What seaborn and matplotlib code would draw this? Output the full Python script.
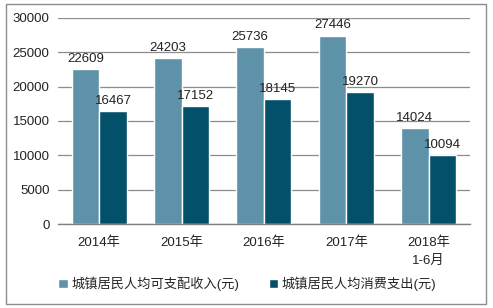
import matplotlib
matplotlib.use("Agg")
import matplotlib.pyplot as plt
import seaborn as sns
import pandas as pd
from matplotlib.patches import Rectangle

categories = ["2014年", "2015年", "2016年", "2017年", "2018年\n1-6月"]
income = [22609, 24203, 25736, 27446, 14024]
spending = [16467, 17152, 18145, 19270, 10094]
series_names = ["城镇居民人均可支配收入(元)", "城镇居民人均消费支出(元)"]
colors = ["#5E92A8", "#03506B"]

sns.set_theme(style="white")
plt.rcParams["font.family"] = ["Liberation Sans", "Noto Sans CJK SC", "DejaVu Sans"]

df = pd.DataFrame({
    "cat": categories * 2,
    "value": income + spending,
    "series": [series_names[0]] * len(categories) + [series_names[1]] * len(categories),
})

fig = plt.figure(figsize=(4.93, 3.08), dpi=100)
ax = fig.add_axes([0.1176, 0.2727, 0.8354, 0.6689])
sns.barplot(data=df, x="cat", y="value", hue="series", palette=colors,
            width=0.67, ax=ax, saturation=1, legend=True)

ax.set_ylim(0, 30000)
ax.set_yticks(range(0, 30001, 5000))
ax.yaxis.grid(True, color="#8C8C8C", linewidth=0.9)
ax.set_axisbelow(True)
for s in ["top", "right", "left"]:
    ax.spines[s].set_visible(False)
ax.spines["bottom"].set_color("#808080")
ax.spines["bottom"].set_linewidth(1.0)
ax.set_xlabel("")
ax.set_ylabel("")
ax.tick_params(axis="y", labelsize=9.5, colors="#222222", length=0, pad=6)
ax.tick_params(axis="x", labelsize=9.5, colors="#222222", length=0, pad=9)
for t in ax.get_xticklabels():
    t.set_linespacing(1.6)

for cont in ax.containers:
    ax.bar_label(cont, fmt="%d", padding=3, fontsize=9.5, color="#222222")

handles, labels = ax.get_legend_handles_labels()
ax.legend(handles, labels, loc="center", bbox_to_anchor=(0.46, -0.29), ncol=2,
          frameon=False, fontsize=9.5, handlelength=0.7, handleheight=0.7,
          handletextpad=0.3, columnspacing=2.2)

fig.patches.append(Rectangle((0.012, 0.012), 0.974, 0.976, transform=fig.transFigure,
                             fill=False, edgecolor="#8C8C8C", linewidth=1.0))

fig.savefig("out.png", dpi=100)
